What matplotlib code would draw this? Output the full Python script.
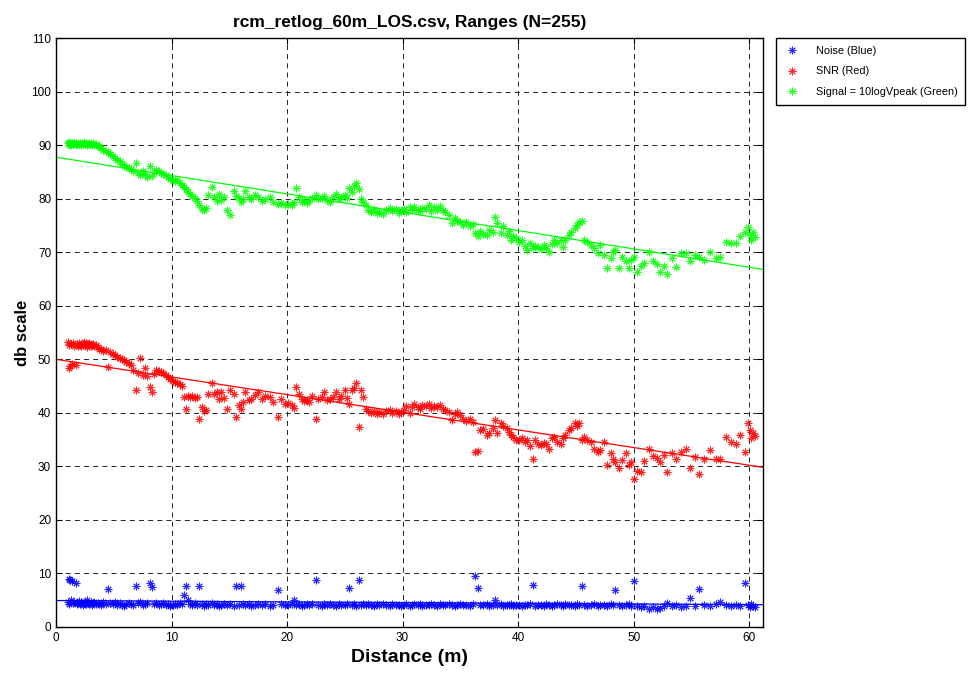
import matplotlib
matplotlib.use("Agg")
import numpy as np
import matplotlib.pyplot as plt

# distance of each range reading (m)
distance = [
    1.0, 1.1, 1.15, 1.2, 1.3, 1.4, 1.5, 1.6, 1.7, 1.8, 1.9, 2.0, 2.1, 2.2, 2.3,
    2.4, 2.5, 2.6, 2.7, 2.8, 2.9, 3.0, 3.1, 3.2, 3.3, 3.45, 3.6, 3.75, 3.9, 4.1,
    4.35, 4.5, 4.7, 4.9, 5.1, 5.3, 5.5, 5.7, 5.9, 6.1, 6.3, 6.5, 6.7, 6.9, 7.1,
    7.3, 7.5, 7.7, 7.9, 8.1, 8.3, 8.5, 8.7, 8.9, 9.1, 9.3, 9.5, 9.7, 9.9,
    10.1, 10.3, 10.5, 10.7, 10.9, 11.1, 11.25, 11.4, 11.6, 11.8, 12.0, 12.2, 12.4, 12.6, 12.8,
    13.0, 13.2, 13.5, 13.7, 13.9, 14.1, 14.3, 14.5, 14.8, 15.1, 15.4, 15.6, 15.8, 16.0, 16.2,
    16.4, 16.7, 16.9, 17.2, 17.5, 17.8, 18.1, 18.5, 18.8, 19.2, 19.5, 19.8,
    20.1, 20.4, 20.6, 20.8, 21.0, 21.3, 21.5, 21.7, 21.9, 22.2, 22.5, 22.7, 23.0, 23.2, 23.5,
    23.7, 24.0, 24.2, 24.5, 24.7, 25.0, 25.2, 25.4, 25.6, 25.8, 26.0, 26.2, 26.4, 26.6, 26.8,
    27.0, 27.3, 27.5, 27.8, 28.0, 28.3, 28.6, 28.9, 29.1, 29.4, 29.7, 29.9,
    30.1, 30.3, 30.6, 30.8, 31.0, 31.3, 31.5, 31.7, 32.0, 32.3, 32.5, 32.7, 33.0, 33.2, 33.5,
    33.7, 34.0, 34.3, 34.5, 34.7, 35.0, 35.2, 35.5, 35.8, 36.1, 36.3, 36.5, 36.7, 37.0, 37.3,
    37.5, 37.8, 38.0, 38.2, 38.5, 38.7, 39.0, 39.2, 39.4, 39.6, 39.8,
    40.1, 40.3, 40.6, 40.8, 41.0, 41.3, 41.5, 41.7, 42.0, 42.2, 42.4, 42.7, 42.9, 43.1, 43.4,
    43.7, 43.9, 44.1, 44.4, 44.6, 44.9, 45.1, 45.3, 45.5, 45.7, 46.0, 46.3, 46.6, 46.9, 47.1,
    47.4, 47.7, 48.0, 48.2, 48.4, 48.7, 49.0, 49.3, 49.6, 49.8,
    50.0, 50.3, 50.6, 50.9, 51.3, 51.7, 52.0, 52.3, 52.6, 52.9, 53.3, 53.7, 54.1, 54.5, 54.9,
    55.3, 55.7, 56.1, 56.6, 57.1, 57.5, 58.0, 58.4, 58.9, 59.2, 59.6, 59.9, 60.1, 60.2, 60.35,
    60.5,
]

noise = [
    4.6, 9.0, 4.3, 8.8, 4.9, 8.5, 4.4, 4.7, 8.1, 4.2, 4.5, 4.8, 4.3, 4.6, 4.1,
    4.4, 4.7, 4.2, 4.9, 4.5, 4.3, 4.6, 4.0, 4.4, 4.7, 4.2, 4.5, 4.3, 4.1, 4.6,
    4.3, 7.1, 4.5, 4.2, 4.6, 4.0, 4.4, 4.1, 3.9, 4.3, 4.5, 4.2, 4.0, 7.6, 4.4,
    4.6, 4.1, 4.3, 4.5, 8.1, 7.5, 4.2, 4.4, 4.0, 4.3, 4.5, 4.1, 4.2, 3.9,
    4.1, 4.3, 4.0, 4.4, 4.2, 5.9, 7.6, 5.0, 4.3, 4.1, 4.4, 4.0, 7.6, 4.2, 3.9,
    4.3, 4.1, 4.4, 4.0, 4.2, 3.8, 4.1, 4.3, 4.0, 4.2, 3.9, 7.6, 4.1, 7.6, 4.3,
    4.0, 4.2, 3.8, 4.1, 4.3, 4.0, 4.2, 3.9, 4.1, 6.9, 4.2, 4.0,
    4.0, 4.3, 5.0, 4.1, 4.2, 3.9, 4.1, 4.3, 4.0, 4.2, 8.7, 4.1, 3.9, 4.2, 4.0,
    4.3, 4.1, 3.8, 4.2, 4.0, 4.1, 4.3, 7.2, 4.0, 4.2, 3.9, 8.7, 4.1, 4.3, 4.0,
    4.2, 4.1, 3.9, 4.2, 4.0, 4.3, 4.1, 3.9, 4.2, 4.0, 4.1, 3.9,
    4.0, 4.2, 3.9, 4.1, 4.3, 4.0, 4.2, 3.9, 4.1, 4.0, 4.2, 4.1, 3.9, 4.2, 4.0,
    4.1, 4.3, 4.0, 3.9, 4.1, 4.2, 4.0, 4.1, 3.9, 4.2, 9.4, 7.3, 4.1, 4.0, 4.2,
    3.9, 4.1, 5.0, 4.0, 4.2, 3.9, 4.1, 4.0, 4.2, 3.8, 4.0,
    4.0, 3.9, 4.1, 4.0, 4.2, 7.8, 3.9, 4.1, 4.0, 3.8, 4.2, 4.0, 3.9, 4.1, 4.3,
    4.0, 3.9, 4.2, 4.0, 4.1, 3.9, 4.2, 4.0, 7.7, 4.1, 3.9, 4.0, 4.2, 3.8, 4.0,
    4.1, 3.9, 4.2, 4.0, 6.9, 4.1, 3.9, 4.0, 4.2, 3.8,
    8.6, 3.8, 3.7, 3.9, 3.4, 3.6, 3.3, 3.5, 3.9, 4.5, 3.8, 4.0, 3.7, 3.9, 5.3,
    3.8, 7.1, 4.0, 3.9, 4.2, 4.7, 4.1, 3.9, 4.0, 3.8, 8.1, 4.0, 3.7, 4.2, 3.9,
    3.6,
]

snr = [
    53.2, 48.4, 52.6, 48.8, 52.9, 49.2, 53.0, 52.4, 49.0, 52.8, 52.5, 53.1, 52.7, 52.4, 52.9,
    53.2, 52.6, 52.8, 52.3, 52.9, 53.1, 52.5, 52.7, 52.9, 52.4, 52.6, 52.3, 52.0, 51.9, 51.6,
    51.7, 48.6, 51.3, 51.0, 50.8, 50.5, 50.3, 50.0, 49.8, 49.5, 49.3, 49.0, 48.0, 44.2, 47.5,
    50.2, 47.0, 48.3, 46.9, 44.8, 43.9, 47.2, 48.0, 47.8, 47.6, 47.4, 47.0, 46.7, 46.4,
    46.0, 45.8, 45.5, 45.3, 45.1, 43.0, 40.8, 43.1, 42.9, 43.2, 42.8, 43.0, 38.9, 41.0, 40.3,
    40.6, 43.5, 45.5, 43.6, 43.9, 42.6, 43.9, 42.8, 40.8, 44.2, 43.6, 39.2, 41.5, 40.8, 42.0,
    43.9, 42.3, 42.6, 43.3, 43.9, 42.5, 43.2, 43.0, 42.0, 39.2, 42.6, 41.7,
    41.9, 41.4, 40.9, 44.8, 43.6, 42.5, 42.2, 42.4, 42.0, 43.2, 38.9, 42.6, 42.9, 43.9, 42.3,
    42.6, 43.0, 43.9, 42.6, 43.1, 44.2, 42.8, 41.7, 44.2, 44.7, 45.5, 37.3, 44.2, 43.0, 40.8,
    40.4, 39.9, 40.3, 39.8, 40.1, 39.7, 40.3, 40.6, 40.0, 40.4, 39.8, 40.2,
    40.5, 41.3, 39.9, 41.0, 41.6, 41.1, 40.8, 41.4, 41.2, 41.7, 40.9, 41.3, 41.0, 41.5, 40.8,
    40.6, 40.2, 38.6, 39.8, 40.2, 39.6, 38.9, 38.5, 38.8, 38.3, 32.7, 32.9, 36.7, 36.9, 35.8,
    36.3, 37.1, 38.6, 36.2, 38.0, 37.6, 37.1, 36.5, 35.8, 35.4, 35.0,
    34.9, 35.2, 34.6, 34.9, 33.7, 31.4, 34.9, 34.2, 34.0, 34.4, 34.1, 33.3, 35.2, 35.5, 34.6,
    34.2, 35.2, 35.8, 36.8, 37.2, 38.0, 37.5, 38.0, 34.9, 35.5, 34.9, 34.6, 33.3, 32.7, 33.0,
    34.6, 30.2, 32.4, 31.4, 30.8, 29.6, 31.1, 32.4, 30.2, 30.8,
    27.7, 29.2, 29.0, 31.0, 33.3, 32.0, 31.5, 30.8, 32.2, 28.9, 32.5, 31.4, 32.7, 33.3, 29.6,
    31.8, 28.6, 31.4, 33.0, 31.4, 31.3, 35.5, 34.5, 34.2, 35.8, 32.7, 38.0, 36.7, 35.2, 36.2,
    35.6,
]

signal = [
    90.4, 90.0, 90.6, 90.3, 90.1, 90.5, 90.2, 90.6, 90.3, 90.0, 90.4, 90.2, 90.5, 90.1, 90.3,
    90.6, 90.2, 90.4, 90.0, 90.3, 90.5, 90.2, 90.1, 90.4, 90.0, 90.2, 89.9, 89.8, 89.6, 89.2,
    89.0, 88.7, 88.3, 88.0, 87.6, 87.3, 87.0, 86.6, 86.3, 86.0, 85.8, 85.5, 85.3, 86.8, 84.9,
    84.4, 85.2, 84.6, 84.0, 86.1, 84.3, 85.0, 85.4, 85.2, 84.9, 84.7, 84.4, 84.0, 83.8,
    83.6, 83.3, 83.6, 82.9, 82.6, 82.2, 81.8, 81.3, 80.9, 80.6, 80.1, 79.6, 78.9, 78.2, 78.0,
    78.3, 80.8, 82.3, 80.4, 79.6, 80.9, 79.8, 80.4, 78.0, 77.0, 81.4, 80.6, 80.2, 79.5, 80.0,
    81.4, 80.3, 79.9, 80.8, 80.4, 79.6, 79.9, 80.3, 79.4, 79.0, 79.2, 78.9,
    79.1, 78.8, 79.5, 82.0, 80.3, 79.5, 79.8, 79.3, 79.6, 80.2, 80.7, 79.9, 80.1, 80.6, 79.8,
    79.5, 80.3, 81.0, 80.0, 80.4, 80.8, 80.2, 82.0, 81.2, 82.5, 83.0, 81.8, 79.9, 79.5, 78.8,
    78.0, 77.6, 78.2, 77.3, 77.6, 77.1, 77.9, 78.3, 77.8, 78.1, 77.4, 77.9,
    78.2, 77.6, 78.4, 77.9, 78.5, 78.0, 77.7, 78.3, 78.1, 78.9, 77.8, 78.4, 78.0, 78.6, 77.9,
    77.5, 77.0, 75.4, 76.5, 75.9, 75.7, 75.2, 75.6, 75.0, 75.3, 73.6, 73.0, 74.0, 73.5, 73.3,
    74.2, 73.8, 76.7, 75.4, 73.6, 74.9, 73.3, 74.0, 72.3, 73.0, 72.6,
    72.0, 72.4, 71.1, 70.4, 71.8, 70.9, 71.2, 71.0, 70.6, 71.3, 70.9, 70.1, 71.5, 72.3, 71.8,
    72.3, 71.0, 72.3, 73.3, 73.8, 74.6, 75.1, 75.7, 75.9, 72.3, 72.0, 71.4, 70.8, 69.8, 71.4,
    69.5, 67.0, 68.9, 70.0, 70.4, 67.0, 69.2, 68.3, 67.0, 68.5,
    69.2, 66.4, 67.5, 68.0, 70.1, 68.3, 67.8, 66.4, 67.5, 66.0, 68.9, 67.3, 69.8, 69.8, 68.3,
    69.5, 69.2, 68.6, 70.1, 68.9, 69.2, 72.0, 71.7, 71.7, 73.0, 73.9, 74.8, 73.3, 72.4, 73.8,
    72.8,
]

# linear trend lines: (intercept, slope)
noise_fit = (4.9, -0.013)
snr_fit = (50.0, -0.330)
signal_fit = (87.8, -0.343)

x_max = 61.2
x_ticks = [0, 10, 20, 30, 40, 50, 60]
y_ticks = list(range(0, 111, 10))

plt.rcParams['font.family'] = ['Liberation Sans', 'DejaVu Sans']

fig = plt.figure(figsize=(9.72, 6.77), dpi=100)
ax = fig.add_axes([0.0576, 0.0743, 0.7274, 0.8689])

star = (8, 2, 0)
series = [
    (noise, noise_fit, (0, 0, 1), 'Noise (Blue)'),
    (snr, snr_fit, (1, 0, 0), 'SNR (Red)'),
    (signal, signal_fit, (0, 1, 0), 'Signal = 10logVpeak (Green)'),
]
handles = []
for vals, fit, col, lab in series:
    h, = ax.plot(distance, vals, linestyle='none', marker=star, markersize=5.5,
                 markeredgewidth=0.7, color=col, alpha=0.85, label=lab)
    handles.append(h)
    xs = np.array([0, x_max])
    ax.plot(xs, fit[0] + fit[1] * xs, color=col, linewidth=0.9)

ax.set_xlim(0, x_max)
ax.set_ylim(0, 110)
ax.set_xticks(x_ticks)
ax.set_yticks(y_ticks)
ax.tick_params(direction='in', labelsize=8.5, length=4, top=True, right=True)
ax.grid(True, color='black', linestyle=(0, (6, 5)), linewidth=0.6)
for s in ax.spines.values():
    s.set_linewidth(1.0)

ax.set_title('rcm_retlog_60m_LOS.csv, Ranges (N=255)', fontsize=12.5, fontweight='bold', pad=8)
ax.set_xlabel('Distance (m)', fontsize=14, fontweight='bold', labelpad=4)
ax.set_ylabel('db scale', fontsize=12, fontweight='bold', labelpad=1)

fig.legend(handles=handles, loc='upper left', bbox_to_anchor=(776 / 972, 1 - 38 / 677),
           fontsize=7.8, frameon=True, fancybox=False, edgecolor='black', framealpha=1,
           borderpad=0.75, handlelength=1.5, handletextpad=1.4, labelspacing=0.95,
           borderaxespad=0)

fig.savefig('out.png', dpi=100)
